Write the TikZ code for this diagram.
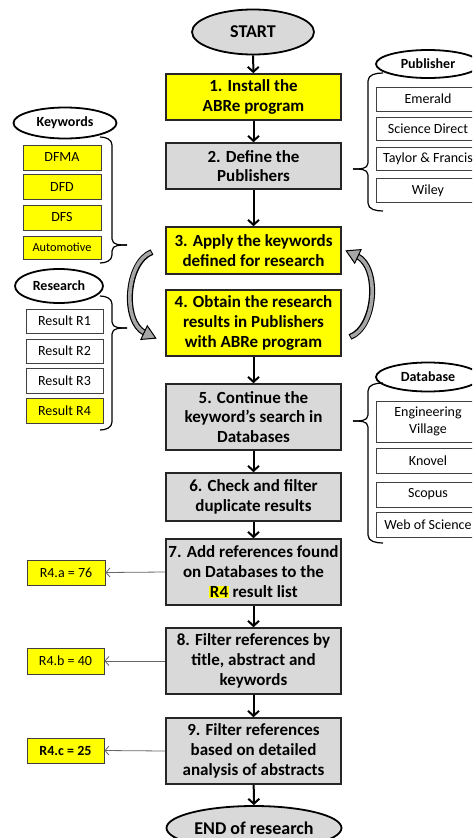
\documentclass[tikz,border=0pt]{standalone}
\usepackage{fontspec}
\setmainfont{Carlito}
\usetikzlibrary{shapes.geometric,arrows.meta}
\definecolor{yel}{HTML}{FFFF00}
\definecolor{gry}{HTML}{D9D9D9}
\definecolor{band}{HTML}{A6A6A6}
\begin{document}
\begin{tikzpicture}[x=1pt,y=-1pt,
  main/.style={draw=black!85, line width=1.6pt, minimum width=175pt, inner sep=0pt, align=center, font=\fontsize{17}{19.7}\selectfont\bfseries},
  yb/.style={main, fill=yel},
  gb/.style={main, fill=gry},
  oval/.style={ellipse, draw=black, line width=1.8pt, inner sep=0pt, fill=gry, font=\fontsize{18}{20}\selectfont\bfseries},
  tag/.style={ellipse, draw=black, line width=1.8pt, fill=white, inner sep=0pt, font=\fontsize{14}{16}\selectfont\bfseries},
  item/.style={draw=black!75, line width=0.9pt, fill=white, inner sep=0pt, align=center, font=\fontsize{14}{16.5}\selectfont},
  yitem/.style={item, fill=yel},
  flow/.style={line width=2pt, -{Straight Barb[length=5pt,width=11pt]}},
  note/.style={line width=0.8pt, draw=black!60, -{Straight Barb[length=4pt,width=9pt]}},
  brace/.style={line width=1.2pt, draw=black},
]
\useasboundingbox (0,0) rectangle (472,838);
\clip (0,0) rectangle (472,838);

% main flow
\node[oval, minimum width=122pt, minimum height=45pt] (start) at (253,32) {START};
\node[yb, minimum height=46pt] (b1) at (253.5,97) {1. Install the\\ABRe program};
\node[gb, minimum height=46pt] (b2) at (253.5,166) {2. Define the\\Publishers};
\node[yb, minimum height=47pt] (b3) at (253.5,250.5) {3. Apply the keywords\\defined for research};
\node[yb, minimum height=66pt] (b4) at (253.5,323) {4. Obtain the research\\results in Publishers\\with ABRe program};
\node[gb, minimum height=66pt] (b5) at (253.5,417) {5. Continue the\\keyword’s search in\\Databases};
\node[gb, minimum height=48pt] (b6) at (253.5,497) {6. Check and filter\\duplicate results};
\node[gb, minimum height=66pt] (b7) at (253.5,572) {7. Add references found\\on Databases to the\\{\fboxsep=0.6pt\colorbox{yel}{R4}} result list};
\node[gb, minimum height=66pt] (b8) at (253.5,661) {8. Filter references by\\title, abstract and\\keywords};
\node[gb, minimum height=66pt] (b9) at (253.5,751) {9. Filter references\\based on detailed\\analysis of abstracts};
\node[oval, minimum width=175pt, minimum height=44pt] (end) at (254,828) {END of research};

\draw[flow] (start) -- (b1);
\draw[flow] (b1) -- (b2);
\draw[flow] (b2) -- (b3);
\draw[flow] (b4) -- (b5);
\draw[flow] (b5) -- (b6);
\draw[flow] (b6) -- (b7);
\draw[flow] (b7) -- (b8);
\draw[flow] (b8) -- (b9);
\draw[flow] (b9) -- (end);

% publisher
\node[tag, minimum width=104pt, minimum height=28pt] (pub) at (428,64) {Publisher};
\node[item, minimum width=104pt, minimum height=24pt] (p1) at (428,99) {Emerald};
\node[item, minimum width=104pt, minimum height=23pt] (p2) at (428,128.5) {Science Direct};
\node[item, minimum width=104pt, minimum height=23pt] (p3) at (428,158.5) {Taylor \& Francis};
\node[item, minimum width=104pt, minimum height=24pt] (p4) at (428,190.5) {Wiley};
\draw[brace] (383,73) to[out=180,in=90] (368,81) -- (368,163) to[out=-90,in=0] (353,169);
\draw[brace] (383,211) to[out=180,in=-90] (368,203) -- (368,175) to[out=90,in=0] (353,169);

% database
\node[tag, minimum width=104pt, minimum height=29pt] (db) at (428,377) {Database};
\node[item, minimum width=104pt, minimum height=41pt] (d1) at (428,421.5) {Engineering\\Village};
\node[item, minimum width=104pt, minimum height=25pt] (d2) at (428,460.5) {Knovel};
\node[item, minimum width=104pt, minimum height=25pt] (d3) at (428,494.5) {Scopus};
\node[item, minimum width=104pt, minimum height=25pt] (d4) at (428,524.5) {Web of Science};
\draw[brace] (383,383) to[out=180,in=90] (368,391) -- (368,415) to[out=-90,in=0] (353,421);
\draw[brace] (383,543) to[out=180,in=-90] (368,535) -- (368,427) to[out=90,in=0] (353,421);

% keywords
\node[tag, minimum width=103pt, minimum height=31pt] (kw) at (65,123) {Keywords};
\node[yitem, minimum width=78pt, minimum height=25pt] (k1) at (62,157.5) {DFMA};
\node[yitem, minimum width=78pt, minimum height=25pt] (k2) at (62,187) {DFD};
\node[yitem, minimum width=78pt, minimum height=25pt] (k3) at (62,217.5) {DFS};
\node[yitem, minimum width=78pt, minimum height=23pt, font=\fontsize{12.3}{14}\selectfont] (k4) at (62,247.5) {Automotive};
\draw[brace] (100,137) to[out=0,in=90] (112,145) -- (112,239) to[out=-90,in=180] (127,245);
\draw[brace] (100,263) to[out=0,in=-90] (112,255) -- (112,251) to[out=90,in=180] (127,245);

% research
\node[tag, minimum width=88pt, minimum height=34pt] (rs) at (59,286) {Research};
\node[item, minimum width=77pt, minimum height=24pt] (r1) at (64.5,321) {Result R1};
\node[item, minimum width=77pt, minimum height=24pt] (r2) at (64.5,351) {Result R2};
\node[item, minimum width=77pt, minimum height=25pt] (r3) at (64.5,380.5) {Result R3};
\node[yitem, minimum width=77pt, minimum height=25pt] (r4) at (64.5,410.5) {Result R4};
\draw[brace] (100,296) to[out=0,in=90] (112,304) -- (112,322) to[out=-90,in=180] (127,328);
\draw[brace] (100,430) to[out=0,in=-90] (112,422) -- (112,334) to[out=90,in=180] (127,328);

% result annotations
\node[yitem, minimum width=78pt, minimum height=25pt] (a7) at (66,572.5) {R4.a = 76};
\node[yitem, minimum width=77pt, minimum height=26pt] (a8) at (65.5,661) {R4.b = 40};
\node[yitem, minimum width=77pt, minimum height=25pt, font=\fontsize{14}{16.5}\selectfont\bfseries] (a9) at (65.5,750.5) {R4.c = 25};
\draw[note] (b7.west) -- (a7.east);
\draw[note] (b8.west) -- (a8.east);
\draw[note] (b9.west) -- (a9.east);

% curved loop arrows
\foreach \rot in {0,180}{
\begin{scope}[rotate around={\rot:(251,294.5)}]
\draw[line width=6pt, black] (152,252) .. controls (126,262) and (122,322) .. (145,333);
\draw[line width=3.6pt, band, shorten <=1pt] (152,252) .. controls (126,262) and (122,322) .. (145,333);
\draw[line width=1pt, fill=band, line join=miter] (155.8,338.2) -- (140.9,339.4) -- (147.3,325.8) -- cycle;
\end{scope}
}
\end{tikzpicture}
\end{document}
